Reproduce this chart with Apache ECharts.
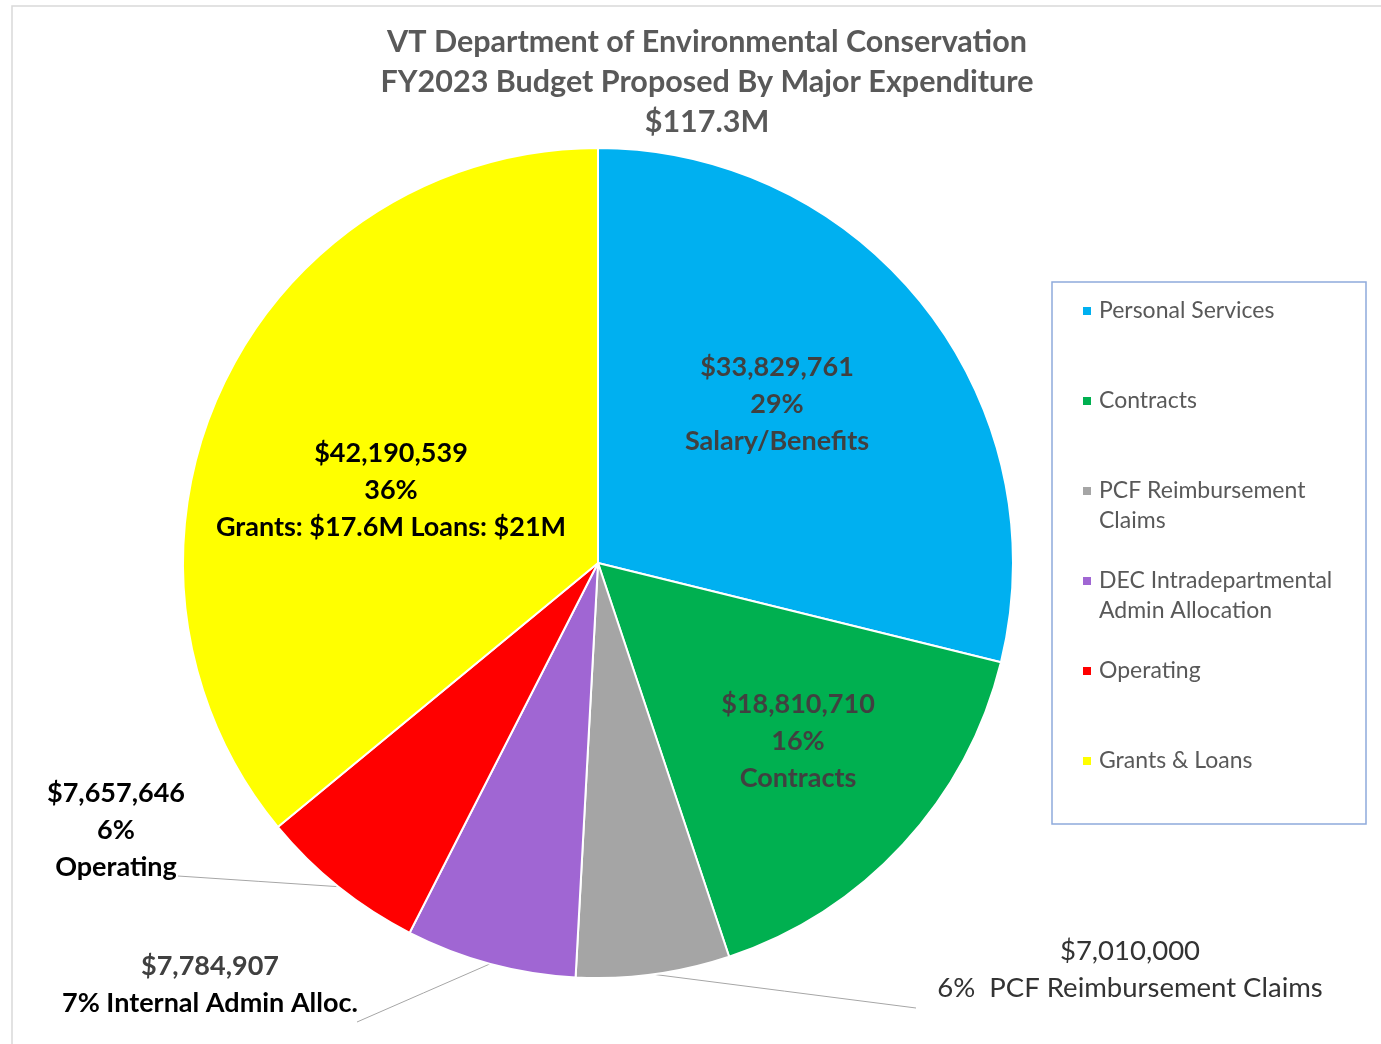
<!DOCTYPE html>
<html>
<head>
<meta charset="utf-8">
<script src="https://cdn.jsdelivr.net/npm/echarts@6/dist/echarts.min.js"></script>
<style>
  html, body { margin: 0; padding: 0; background: #fff; }
  #chart { width: 1381px; height: 1044px; }
</style>
</head>
<body>
<div id="chart"></div>
<script>
// budget categories and amounts (FY2023 proposed)
const categories = ['Personal Services', 'Contracts', 'PCF Reimbursement Claims',
  'DEC Intradepartmental Admin Allocation', 'Operating', 'Grants & Loans']
const amounts = [33829761, 18810710, 7010000, 7784907, 7657646, 42190539]
const pctLabels = ['29%', '16%', '6%', '7%', '6%', '36%']
const captions = ['Salary/Benefits', 'Contracts', 'PCF Reimbursement Claims',
  'Internal Admin Alloc.', 'Operating', 'Grants: $17.6M Loans: $21M']
const legendNames = ['Personal Services', 'Contracts', 'PCF Reimbursement\nClaims',
  'DEC Intradepartmental\nAdmin Allocation', 'Operating', 'Grants & Loans']
const colors = ['#00B0F0', '#00B050', '#A5A5A5', '#A066D3', '#FF0000', '#FFFF00']

// where each label sits, and where outside leader lines end
const spots = [
  { x: 777, y: 404 },
  { x: 798, y: 741 },
  { x: 1130, y: 970, end: [916, 1008] },
  { x: 210, y: 985, end: [357, 1022] },
  { x: 116, y: 830, end: [178, 876] },
  { x: 391, y: 490 }
]
const outside = [false, false, true, true, true, false]

const money = v => '$' + v.toLocaleString('en-US')

function labelText(i) {
  const m = money(amounts[i])
  if (i === 2) return '{r|' + m + '}\n{r|' + pctLabels[i] + '  ' + captions[i] + '}'
  if (i === 3) return '{g|' + m + '}\n{k|' + pctLabels[i] + ' ' + captions[i] + '}'
  const st = (i === 0 || i === 1) ? 'g' : 'k'
  return '{' + st + '|' + m + '}\n{' + st + '|' + pctLabels[i] + '}\n{' + st + '|' + captions[i] + '}'
}

const font = 'Lato, "Open Sans", sans-serif'
const rich = {
  g: { color: '#404040', fontSize: 27, fontWeight: 'bold', lineHeight: 37, fontFamily: font },
  k: { color: '#000000', fontSize: 27, fontWeight: 'bold', lineHeight: 37, fontFamily: font },
  r: { color: '#333333', fontSize: 27.5, fontWeight: 'normal', lineHeight: 37, fontFamily: font }
}

const nameToLegend = {}
categories.forEach((c, i) => { nameToLegend[c] = legendNames[i] })

const chart = echarts.init(document.getElementById('chart'))
chart.setOption({
  animation: false,
  color: colors,
  title: {
    text: 'VT Department of Environmental Conservation\nFY2023 Budget Proposed By Major Expenditure\n$117.3M',
    left: 707,
    top: 22,
    padding: 0,
    textAlign: 'center',
    textStyle: { color: '#595959', fontSize: 30.5, fontWeight: 'bold', lineHeight: 40, fontFamily: font }
  },
  legend: {
    orient: 'vertical',
    left: 1081,
    top: 266,
    padding: 0,
    itemGap: 0,
    itemWidth: 10,
    itemHeight: 10,
    icon: 'rect',
    data: categories,
    formatter: name => {
      const lines = nameToLegend[name].split('\n')
      return '\n' + lines[0] + '\n' + (lines[1] || '')
    },
    textStyle: { color: '#595959', fontSize: 23, lineHeight: 30, fontFamily: font, padding: [0, 0, 0, 2] }
  },
  graphic: [
    { type: 'rect', shape: { x: 12, y: 6, width: 1400, height: 1060 },
      style: { fill: 'none', stroke: '#D9D9D9', lineWidth: 1.5 }, silent: true },
    { type: 'rect', shape: { x: 1052, y: 282, width: 314, height: 542 },
      style: { fill: 'none', stroke: '#8FAADC', lineWidth: 1.5 }, silent: true }
  ],
  series: [{
    type: 'pie',
    center: [598, 563],
    radius: 415,
    startAngle: 90,
    clockwise: true,
    itemStyle: { borderColor: '#fff', borderWidth: 2 },
    emphasis: { disabled: true },
    data: categories.map((c, i) => ({
      name: c,
      value: amounts[i],
      label: {
        show: true,
        position: outside[i] ? 'outside' : 'inside',
        formatter: labelText(i),
        rich: rich
      },
      labelLine: { show: outside[i], lineStyle: { color: '#A6A6A6', width: 1 } }
    })),
    labelLayout: params => {
      const s = spots[params.dataIndex]
      const out = { x: s.x, y: s.y, align: 'center', verticalAlign: 'middle' }
      if (s.end && params.labelLinePoints) {
        const p0 = params.labelLinePoints[0]
        out.labelLinePoints = [p0, [(p0[0] + s.end[0]) / 2, (p0[1] + s.end[1]) / 2], s.end]
      }
      return out
    }
  }]
})
</script>
</body>
</html>
